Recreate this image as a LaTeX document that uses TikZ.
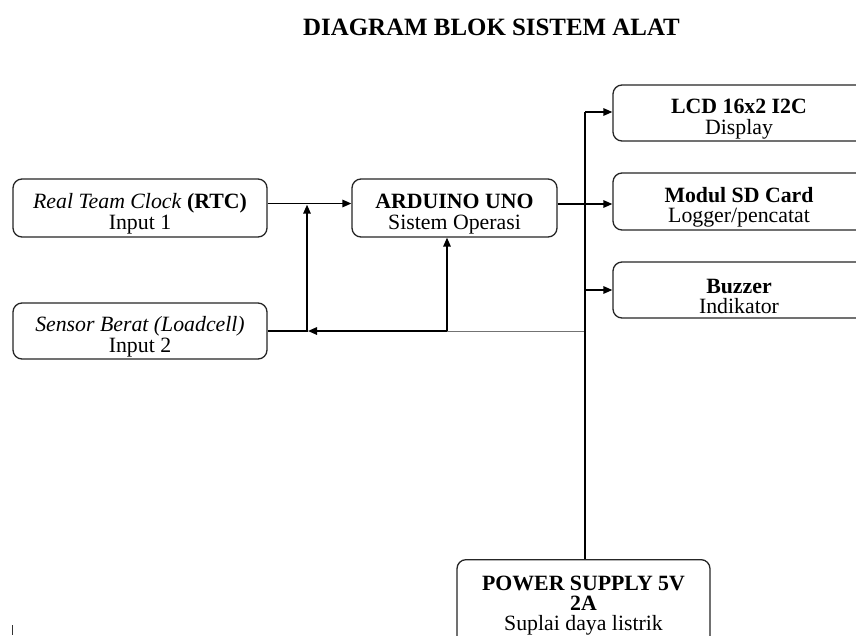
\documentclass[tikz,border=0pt]{standalone}
\usepackage{fontspec}
\setmainfont{Liberation Serif}
\usetikzlibrary{arrows.meta}
\newcommand\boxstrut{\rule{0pt}{27pt}}
\tikzset{
  box/.style={draw=black!85, line width=1.3pt, rounded corners=9pt, fill=white,
    align=center, inner sep=0pt, font=\fontsize{21.8}{20.5}\selectfont},
  conn/.style={line width=1.5pt, draw=black},
  tip/.style={-{Triangle[length=9pt,width=7.5pt]}},
  lbl/.style={align=center, inner sep=0pt, font=\fontsize{21.8}{20}\selectfont}
}
\begin{document}
\begin{tikzpicture}[x=1pt,y=-1pt]
\useasboundingbox (0,0) rectangle (856,635);
\clip (0,0) rectangle (856,635);
\fill[white] (0,0) rectangle (856,635);

% title
\node[inner sep=0pt, anchor=base, font=\fontsize{24.9}{26}\selectfont\bfseries] (title) at (491.5,35) {DIAGRAM BLOK SISTEM ALAT};

% boxes
\node[box, minimum width=254pt, minimum height=58pt] (rtc) at (140,208) {\boxstrut\textit{Real Team Clock} \textbf{(RTC)}\\Input 1};
\node[box, minimum width=254pt, minimum height=56pt] (load) at (140,331) {\boxstrut\textit{Sensor Berat (Loadcell)}\\Input 2};
\node[box, minimum width=205pt, minimum height=58pt] (ard) at (454.5,208) {\boxstrut\textbf{ARDUINO UNO}\\Sistem Operasi};
\node[box, minimum width=252pt, minimum height=56pt] (lcd) at (739,113) {\boxstrut\textbf{LCD 16x2 I2C}\\Display};
\node[box, minimum width=252pt, minimum height=57pt] (sd) at (739,201.5) {\boxstrut\textbf{Modul SD Card}\\Logger/pencatat};
\node[box, minimum width=252pt, minimum height=56pt] (buz) at (739,290) {\boxstrut\textbf{Buzzer}\\Indikator};
\node[box, minimum width=253pt, minimum height=140pt, anchor=north] (ps) at (583.5,559) {};
\node[lbl, anchor=north] (pstext) at (583.5,576) {\textbf{POWER SUPPLY 5V}\\\textbf{2A}\\Suplai daya listrik};

% junction coordinates
\coordinate (j1) at (307,203.5);
\coordinate (j2) at (307,331);
\coordinate (j3) at (447,331);
\coordinate (bus1) at (585,112);
\coordinate (bus2) at (585,290);
\coordinate (bus3) at (585,331.5);

% RTC -> Arduino
\draw[conn, tip] (rtc.east |- j1) -- (ard.west |- j1);
% Loadcell -> up to RTC line
\draw[conn, tip] (load.east |- j2) -- (j2) -- ([yshift=-1.2pt]j1);
% return line from bus to loadcell junction
\draw[conn, draw=black!55] (bus3) -- (j3 |- bus3);
\draw[conn, tip] (j3) -- ([xshift=1pt]j2);
\draw[conn, tip] (j3) -- (ard.south -| j3);
% Arduino -> SD card
\draw[conn, tip] (ard.east |- 0,204) -- (sd.west |- 0,204);
% bus
\draw[conn] (bus1) -- (ps.north -| bus1);
\draw[conn, tip] (bus1) -- (lcd.west |- bus1);
\draw[conn, tip] (bus2) -- (buz.west |- bus2);

% stray mark
\draw[line width=1.6pt, black!80] (12.5,625) -- (12.5,635);
\end{tikzpicture}
\end{document}
